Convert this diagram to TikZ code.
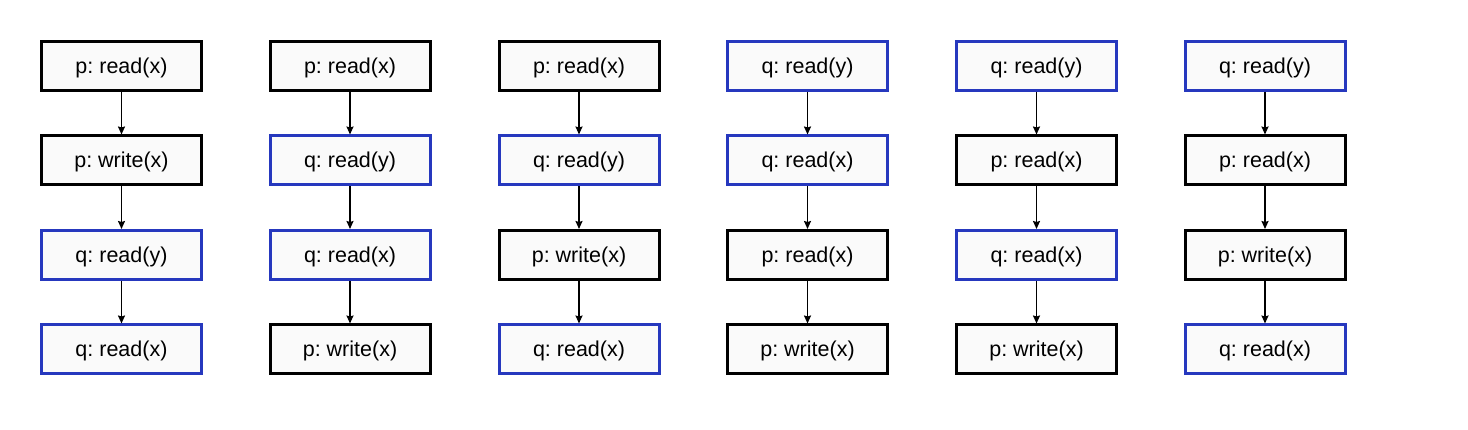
\documentclass[tikz,border=0pt]{standalone}
\usepackage{fontspec}
\setmainfont{Liberation Sans}
\usetikzlibrary{arrows.meta}
\frenchspacing

\definecolor{qblue}{RGB}{38,56,190}
\definecolor{boxfill}{RGB}{250,250,250}

\tikzset{
  pbox/.style = {draw = black, fill = boxfill, line width = 3pt,
                 minimum width = 160pt, minimum height = 49pt,
                 inner sep = 0pt, text height = 18pt, text depth = 3pt,
                 font = \fontsize{21.5}{25}\selectfont},
  qbox/.style = {pbox, draw = qblue},
  seq/.style  = {-{Stealth[length = 8pt, width = 7pt, inset = 1pt]}, line width = 1.6pt}
}

\begin{document}
\begin{tikzpicture}[x = 1pt, y = -1pt]
  \useasboundingbox (0, 0) rectangle (1468, 430);

  %%t1
  \node[pbox] (a1) at (121.5, 66) {p: read(x)};
  \node[pbox] (a2) at (121.5, 160.5) {p: write(x)};
  \node[qbox] (a3) at (121.5, 255) {q: read(y)};
  \node[qbox] (a4) at (121.5, 349.5) {q: read(x)};
    \draw[seq] (a1) to (a2);
    \draw[seq] (a2) to (a3);
    \draw[seq] (a3) to (a4);

  %%t2
  \node[pbox] (b1) at (350, 66) {p: read(x)};
  \node[qbox] (b2) at (350, 160.5) {q: read(y)};
  \node[qbox] (b3) at (350, 255) {q: read(x)};
  \node[pbox] (b4) at (350, 349.5) {p: write(x)};
    \draw[seq] (b1) to (b2);
    \draw[seq] (b2) to (b3);
    \draw[seq] (b3) to (b4);

  %%t3
  \node[pbox] (c1) at (579, 66) {p: read(x)};
  \node[qbox] (c2) at (579, 160.5) {q: read(y)};
  \node[pbox] (c3) at (579, 255) {p: write(x)};
  \node[qbox] (c4) at (579, 349.5) {q: read(x)};
    \draw[seq] (c1) to (c2);
    \draw[seq] (c2) to (c3);
    \draw[seq] (c3) to (c4);

  %%t4
  \node[qbox] (d1) at (807.5, 66) {q: read(y)};
  \node[qbox] (d2) at (807.5, 160.5) {q: read(x)};
  \node[pbox] (d3) at (807.5, 255) {p: read(x)};
  \node[pbox] (d4) at (807.5, 349.5) {p: write(x)};
    \draw[seq] (d1) to (d2);
    \draw[seq] (d2) to (d3);
    \draw[seq] (d3) to (d4);

  %%t5
  \node[qbox] (e1) at (1036.5, 66) {q: read(y)};
  \node[pbox] (e2) at (1036.5, 160.5) {p: read(x)};
  \node[qbox] (e3) at (1036.5, 255) {q: read(x)};
  \node[pbox] (e4) at (1036.5, 349.5) {p: write(x)};
    \draw[seq] (e1) to (e2);
    \draw[seq] (e2) to (e3);
    \draw[seq] (e3) to (e4);

  %%t6
  \node[qbox] (f1) at (1265, 66) {q: read(y)};
  \node[pbox] (f2) at (1265, 160.5) {p: read(x)};
  \node[pbox] (f3) at (1265, 255) {p: write(x)};
  \node[qbox] (f4) at (1265, 349.5) {q: read(x)};
    \draw[seq] (f1) to (f2);
    \draw[seq] (f2) to (f3);
    \draw[seq] (f3) to (f4);

\end{tikzpicture}
\end{document}
